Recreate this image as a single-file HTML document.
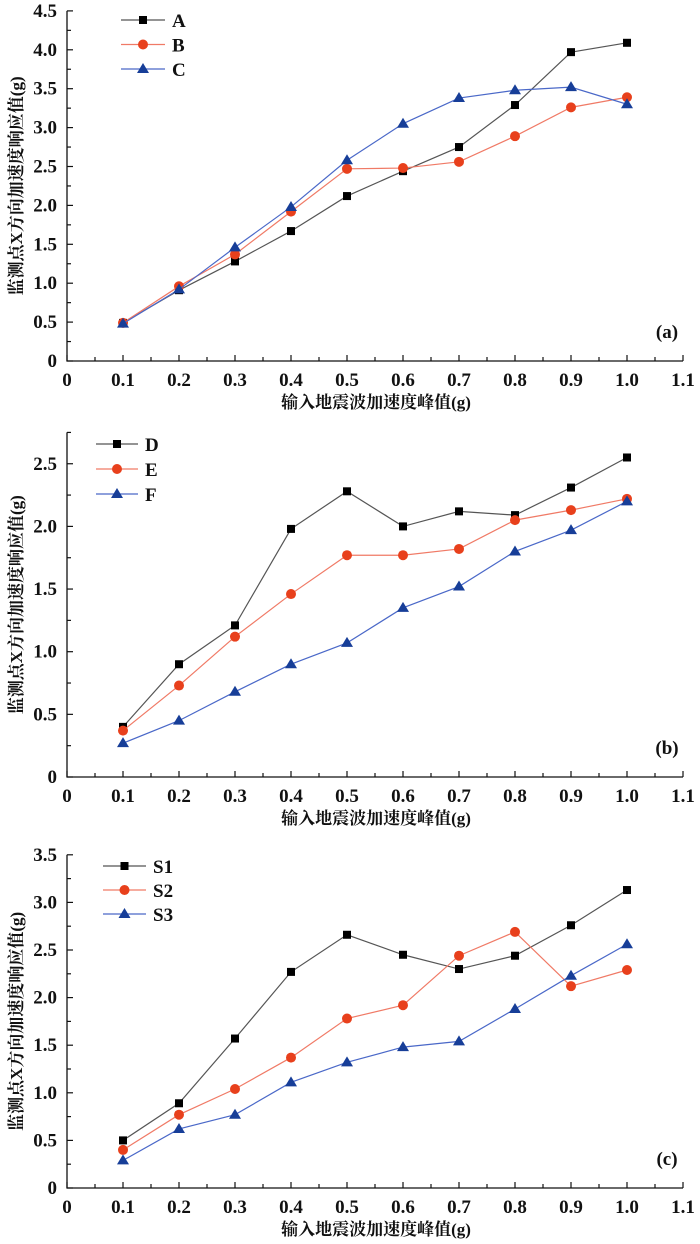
<!DOCTYPE html>
<html><head><meta charset="utf-8"><style>
body{margin:0;background:#fff;}
svg{display:block;font-family:"Liberation Serif","Noto Serif CJK SC",serif;}
.tl{font-size:19px;font-weight:bold;fill:#111;}
.tt{font-size:17px;font-weight:bold;fill:#111;font-family:"Liberation Serif","Noto Serif CJK SC",serif;}
</style></head><body>
<svg id="chart" width="700" height="1244" viewBox="0 0 700 1244"></svg>
<script>
const xCategories=[0.1,0.2,0.3,0.4,0.5,0.6,0.7,0.8,0.9,1.0];
const xTickLabels=["0","0.1","0.2","0.3","0.4","0.5","0.6","0.7","0.8","0.9","1.0","1.1"];
const seriesA=[0.49,0.91,1.28,1.67,2.12,2.44,2.75,3.29,3.97,4.09];
const seriesB=[0.49,0.96,1.37,1.92,2.47,2.48,2.56,2.89,3.26,3.39];
const seriesC=[0.48,0.92,1.46,1.98,2.58,3.05,3.38,3.48,3.52,3.30];
const seriesD=[0.40,0.90,1.21,1.98,2.28,2.00,2.12,2.09,2.31,2.55];
const seriesE=[0.37,0.73,1.12,1.46,1.77,1.77,1.82,2.05,2.13,2.22];
const seriesF=[0.27,0.45,0.68,0.90,1.07,1.35,1.52,1.80,1.97,2.20];
const seriesS1=[0.50,0.89,1.57,2.27,2.66,2.45,2.30,2.44,2.76,3.13];
const seriesS2=[0.40,0.77,1.04,1.37,1.78,1.92,2.44,2.69,2.12,2.29];
const seriesS3=[0.29,0.62,0.77,1.11,1.32,1.48,1.54,1.88,2.23,2.56];
const yTicksA=["0","0.5","1.0","1.5","2.0","2.5","3.0","3.5","4.0","4.5"];
const yTicksB=["0","0.5","1.0","1.5","2.0","2.5"];
const yTicksC=["0","0.5","1.0","1.5","2.0","2.5","3.0","3.5"];
const namesA=["A","B","C"],namesB=["D","E","F"],namesC=["S1","S2","S3"];

const NS="http://www.w3.org/2000/svg";
const svg=document.getElementById('chart');
function mk(tag,attrs,parent,text){const e=document.createElementNS(NS,tag);for(const k in attrs)e.setAttribute(k,attrs[k]);if(text!==undefined)e.textContent=text;(parent||svg).appendChild(e);return e;}
const lineCol=["#555","#f07a66","#4a68c8"];
const markCol=["#000","#e8401c","#173e98"];
function marker(type,x,y,g){
  let m;
  if(type===0)m=mk('rect',{x:x-4,y:y-4,width:8,height:8,fill:markCol[0]},g);
  else if(type===1)m=mk('circle',{cx:x,cy:y,r:5,fill:markCol[1]},g);
  else m=mk('polygon',{points:`${x},${y-6} ${x+6},${y+4} ${x-6},${y+4}`,fill:markCol[2]},g);
  return m;
}
function panel(id,y0,perUnit,yMax,yTicks,series,names,leg,tag){
  const x0=67,xPer=560;
  const X=v=>x0+v*xPer, Y=v=>y0-v*perUnit;
  const g=mk('g',{},svg);
  
  
  const yTop=Y(yMax);
  const ax=mk('path',{d:`M${x0},${yTop}V${y0}H${X(1.1)}`,stroke:"#111","stroke-width":1.3,fill:"none"},g);
  
  
  for(let i=0;i<=22;i++){const v=i*0.05;const L=i%2?4:6;mk('line',{x1:X(v),x2:X(v),y1:y0,y2:y0-L,stroke:"#111","stroke-width":1.2},g);}
  xTickLabels.forEach((t,i)=>{const e=mk('text',{x:X(i*0.1),y:y0+25,"text-anchor":"middle",class:"tl"},g,t);
    
    });
  for(let v=0;v<=yMax+1e-6;v+=0.25){const maj=Math.abs(v*2-Math.round(v*2))<1e-6;mk('line',{x1:x0,x2:x0+(maj?6:4),y1:Y(v),y2:Y(v),stroke:"#111","stroke-width":1.2},g);}
  yTicks.forEach((t,i)=>{const e=mk('text',{x:57,y:Y(i*0.5)+6,"text-anchor":"end",class:"tl"},g,t);
    
    });
  const xt=mk('text',{x:376,y:y0+47,"text-anchor":"middle",class:"tt"},g,"输入地震波加速度峰值(g)");
  
  
  const cy=(yTop+y0)/2;
  const yt=mk('text',{x:0,y:0,"text-anchor":"middle",class:"tt",transform:`translate(22,${cy}) rotate(-90)`},g,"监测点X方向加速度响应值(g)");
  
  
  const pl=mk('text',{x:667,y:y0-23,"text-anchor":"middle",class:"tl","font-size":"15px"},g,tag);
  
  
  series.forEach((s,k)=>{
    const sg=mk('g',{},g);
    
    
    mk('polyline',{points:s.map((v,i)=>X(xCategories[i])+','+Y(v)).join(' '),fill:"none",stroke:lineCol[k],"stroke-width":1.2},sg);
    s.forEach((v,i)=>{const m=marker(k,X(xCategories[i]),Y(v),sg);
      
      });
    const ly=leg.y+k*leg.dy;
    const lg=mk('g',{},g);
    
    
    mk('line',{x1:leg.x1,x2:leg.x2,y1:ly,y2:ly,stroke:lineCol[k],"stroke-width":1.2},lg);
    marker(k,(leg.x1+leg.x2)/2,ly,lg);
    mk('text',{x:leg.x2+7,y:ly+7,class:"tl"},lg,names[k]);
  });
}
panel('a',361,77.8,4.5,yTicksA,[seriesA,seriesB,seriesC],namesA,{x1:121,x2:165,y:20,dy:24.5},"(a)");
panel('b',777,125.3,2.75,yTicksB,[seriesD,seriesE,seriesF],namesB,{x1:96,x2:138,y:444,dy:25},"(b)");
panel('c',1188,95.2,3.5,yTicksC,[seriesS1,seriesS2,seriesS3],namesC,{x1:103,x2:146,y:866,dy:24},"(c)");
</script>
</body></html>
